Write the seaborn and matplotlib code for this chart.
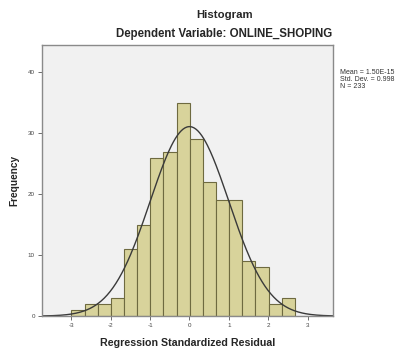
import numpy as np
import pandas as pd
import matplotlib
matplotlib.use("Agg")
import matplotlib.pyplot as plt
import seaborn as sns

# histogram bins
bin_start = -3.0
bin_width = 0.334
counts = [1, 2, 2, 3, 11, 15, 26, 27, 35, 29, 22, 19, 19, 9, 8, 2, 3]

mean_val = 1.50e-15
std_val = 0.998
n_obs = 233

x_ticks = [-3, -2, -1, 0, 1, 2, 3]
y_ticks = [0, 10, 20, 30, 40]

edges = bin_start + bin_width * np.arange(len(counts) + 1)
df = pd.DataFrame({
    "resid": (edges[:-1] + edges[1:]) / 2,
    "count": counts,
})

sns.set_style("white")
plt.rcParams["font.family"] = ["Liberation Sans", "DejaVu Sans"]
plt.rcParams["axes.unicode_minus"] = False

fig = plt.figure(figsize=(3.99, 3.52), dpi=100)
ax = fig.add_axes([0.105, 0.102, 0.73, 0.770])
ax.set_facecolor("#f1f1f1")

sns.histplot(
    data=df,
    x="resid",
    weights="count",
    bins=edges.tolist(),
    color="#d8d39b",
    edgecolor="#6e6a40",
    linewidth=0.8,
    alpha=1,
    ax=ax
)

# fitted normal curve
xs = np.linspace(-3.75, 3.65, 300)
ys = n_obs * bin_width * np.exp(-0.5 * ((xs - mean_val) / std_val) ** 2) / (std_val * np.sqrt(2 * np.pi))
sns.lineplot(x=xs, y=ys, color="#3a3a3a", linewidth=1.0, ax=ax)

ax.set_xlim(-3.75, 3.65)
ax.set_ylim(0, 44.5)
ax.set_xticks(x_ticks)
ax.set_yticks(y_ticks)
ax.tick_params(axis="both", labelsize=4.5, length=3, width=0.6, color="#555555",
               labelcolor="#444444", direction="out", pad=2)
ax.tick_params(axis="x", bottom=True)
ax.tick_params(axis="y", left=True)
for s in ax.spines.values():
    s.set_color("#8a8a8a")
    s.set_linewidth(1.0)

ax.set_xlabel("Regression Standardized Residual", fontsize=7.7, fontweight="bold", labelpad=7)
ax.set_ylabel("Frequency", fontsize=7.3, fontweight="bold", labelpad=6)

fig.text(0.562, 0.958, "Histogram", ha="center", va="center", fontsize=8.2, fontweight="bold")
fig.text(0.561, 0.902, "Dependent Variable: ONLINE_SHOPING", ha="center", va="center",
         fontsize=8.3, fontweight="bold")

fig.text(0.852, 0.773, "Mean = 1.50E-15\nStd. Dev. = 0.998\nN = 233", ha="left", va="center",
         fontsize=5, linespacing=1.0, color="#333333")

fig.savefig("out.png", dpi=100)
